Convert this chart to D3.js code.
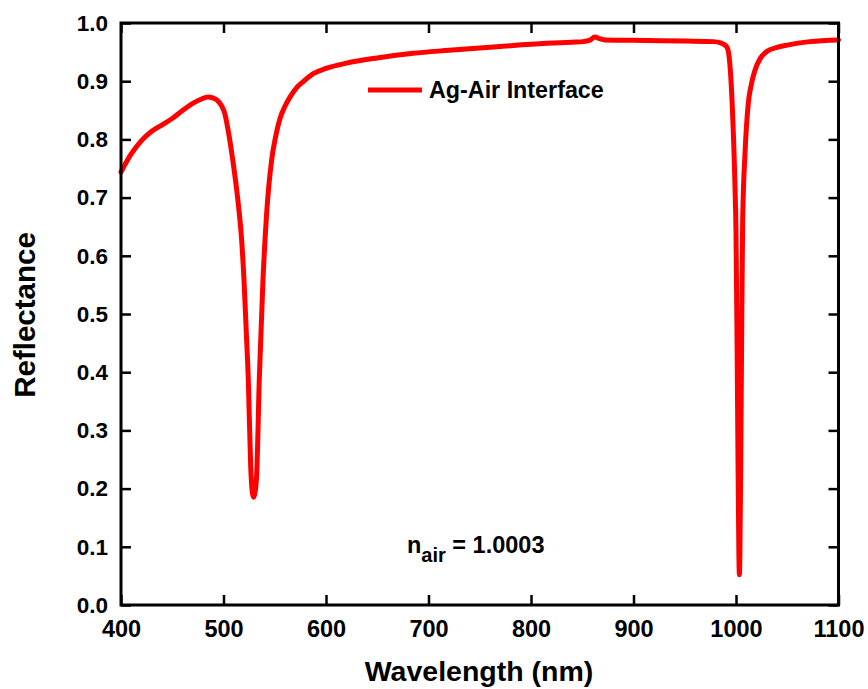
<!DOCTYPE html>
<html><head><meta charset="utf-8">
<script src="https://cdn.jsdelivr.net/npm/d3@7"></script>
<style>body{margin:0;background:#fff}svg{display:block}text{font-family:"Liberation Sans",Arial,sans-serif;font-weight:bold;fill:#000}</style>
</head><body><svg id="c" width="868" height="689"></svg>
<script>
const wavelength = [400,410,420,430,441,450,461,470,478,485,490,494,498,501,504.5,509,514,517.7,520,522.2,524.2,526.5,528,529.3,530.6,532.4,534.9,538.5,542.1,547,551,555,560,565,571.4,577.6,587.6,600,620,650,685,720,750,780,815,840,851,857,862.4,867,872,913,950,978,985,990.9,993,995,997,999,1000,1001,1002,1002.8,1003.3,1003.8,1004.6,1005.5,1006.5,1008.8,1012,1015,1018.5,1024,1030,1040,1050,1072,1100];
const reflectance = [0.744,0.775,0.798,0.814,0.826,0.836,0.851,0.862,0.869,0.873,0.871,0.867,0.858,0.846,0.816,0.765,0.696,0.627,0.558,0.47,0.387,0.24,0.195,0.185,0.192,0.225,0.387,0.558,0.673,0.765,0.806,0.835,0.857,0.873,0.889,0.899,0.913,0.922,0.931,0.940,0.948,0.953,0.957,0.961,0.965,0.967,0.968,0.970,0.976,0.973,0.971,0.970,0.969,0.968,0.966,0.959,0.946,0.905,0.83,0.72,0.64,0.46,0.24,0.09,0.052,0.09,0.24,0.46,0.66,0.776,0.862,0.895,0.919,0.940,0.951,0.958,0.962,0.968,0.971];
const xTicks = [400,500,600,700,800,900,1000,1100];
const yTicks = [0,0.1,0.2,0.3,0.4,0.5,0.6,0.7,0.8,0.9,1.0];
const seriesName = "Ag-Air Interface";

const svg = d3.select("#c");
const L=121, R=838.5, T=23, B=605;
const x = d3.scaleLinear().domain([400,1100]).range([L,R]);
const y = d3.scaleLinear().domain([0,1]).range([B,T]);

// ticks
const gx = svg.append("g").attr("transform",`translate(0,${B})`)
  .call(d3.axisBottom(x).tickValues(xTicks).tickSizeInner(-10).tickSizeOuter(0).tickPadding(15).tickFormat(d3.format("d")));
gx.selectAll("text").style("font-size","23.5px").attr("dy","0.71em");
const gxt = svg.append("g").attr("transform",`translate(0,${T})`)
  .call(d3.axisTop(x).tickValues(xTicks).tickSizeInner(-10).tickSizeOuter(0).tickFormat(""));
const gy = svg.append("g").attr("transform",`translate(${L},0)`)
  .call(d3.axisLeft(y).tickValues(yTicks).tickSizeInner(-10).tickSizeOuter(0).tickPadding(13).tickFormat(d3.format(".1f")));
gy.selectAll("text").style("font-size","22.5px");
const gyr = svg.append("g").attr("transform",`translate(${R},0)`)
  .call(d3.axisRight(y).tickValues(yTicks).tickSizeInner(-10).tickSizeOuter(0).tickFormat(""));
svg.selectAll(".domain").remove();
svg.selectAll(".tick line").attr("stroke","#000").attr("stroke-width",2.5);
svg.selectAll(".tick text").attr("font-family",null).style("font-family","'Liberation Sans',Arial,sans-serif").style("font-weight","bold");

// data line
const data = wavelength.map((w,i)=>[w,reflectance[i]]);
svg.append("path").datum(data)
  .attr("d", d3.line().x(d=>x(d[0])).y(d=>y(d[1])).curve(d3.curveMonotoneX))
  .attr("fill","none").attr("stroke","#ff0000").attr("stroke-width",5)
  .attr("stroke-linejoin","round").attr("stroke-linecap","round");

// frame
svg.append("rect").attr("x",L).attr("y",T).attr("width",R-L).attr("height",B-T)
  .attr("fill","none").attr("stroke","#000").attr("stroke-width",3);

// legend
svg.append("line").attr("x1",368).attr("x2",422).attr("y1",90).attr("y2",90)
  .attr("stroke","#ff0000").attr("stroke-width",5);
svg.append("text").attr("x",429).attr("y",98).style("font-size","23.3px").text(seriesName);

// annotation
const ann = svg.append("text").attr("x",407).attr("y",553).style("font-size","23.5px");
ann.append("tspan").text("n");
ann.append("tspan").attr("dy",9).style("font-size","20px").text("air");
ann.append("tspan").attr("dy",-9).text(" = 1.0003");

// axis titles
svg.append("text").attr("x",479).attr("y",681).attr("text-anchor","middle").style("font-size","28.5px").text("Wavelength (nm)");
svg.append("text").attr("transform","translate(35,315) rotate(-90)").attr("text-anchor","middle").style("font-size","29.5px").text("Reflectance");
</script></body></html>
